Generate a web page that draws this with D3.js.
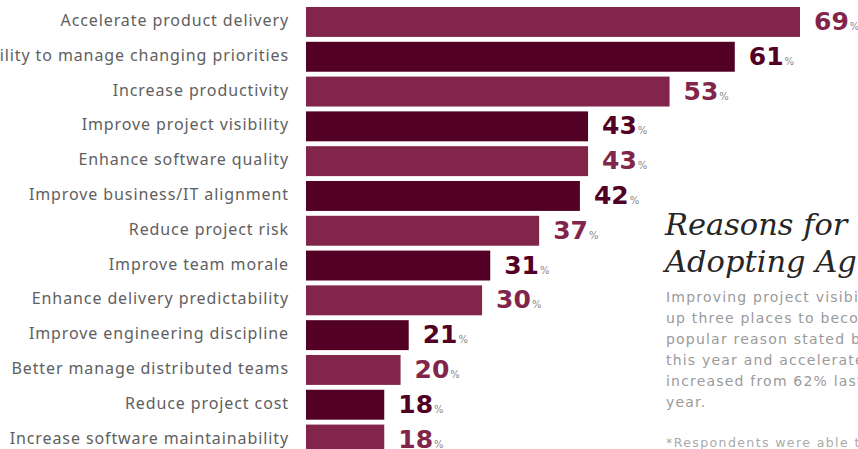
<!DOCTYPE html>
<html>
<head>
<meta charset="utf-8">
<script src="https://cdn.jsdelivr.net/npm/d3@7"></script>
<style>
  html, body { margin: 0; padding: 0; background: #fff; overflow: hidden; }
</style>
</head>
<body>
<script>
// data
const reasons = [
  "Accelerate product delivery",
  "Ability to manage changing priorities",
  "Increase productivity",
  "Improve project visibility",
  "Enhance software quality",
  "Improve business/IT alignment",
  "Reduce project risk",
  "Improve team morale",
  "Enhance delivery predictability",
  "Improve engineering discipline",
  "Better manage distributed teams",
  "Reduce project cost",
  "Increase software maintainability"
];
const percents = [69, 61, 53, 43, 43, 42, 37, 31, 30, 21, 20, 18, 18];
const titleLines = ["Reasons for", "Adopting Agile"];
const noteLines = [
  "Improving project visibility moved",
  "up three places to become the",
  "popular reason stated by respondents",
  "this year and accelerate product delivery",
  "increased from 62% last",
  "year."
];
const footnote = "*Respondents were able to make multiple selections.";

let width = 858, height = 449;
let svg = null;
let x, y = null; // scales
const colors = ["#81264a", "#520023"];

main();

function main() {
  appendSvg("body");
  setupXScale();
  setupYScale();
  addBars();
  addCategoryLabels();
  addValueLabels();
  addTitle();
  addNote();
}

function appendSvg(domElement) {
  svg = d3.select(domElement).append("svg")
    .attr("width", width)
    .attr("height", height);
}

function setupXScale() {
  // the infographic bars are not drawn from zero, domain starts a bit above it
  x = d3.scaleLinear()
    .domain([8.4, 69])
    .range([306, 800]);
}

function setupYScale() {
  y = d3.scaleBand()
    .domain(reasons)
    .range([7, 454.5])
    .paddingInner(0.14)
    .paddingOuter(0);
}

function addBars() {
  svg.selectAll("rect.bar")
    .data(reasons)
    .enter()
    .append("rect")
    .attr("class", "bar")
    .attr("x", x(8.4))
    .attr("y", d => y(d))
    .attr("width", (d, i) => x(percents[i]) - x(8.4))
    .attr("height", y.bandwidth())
    .attr("fill", (d, i) => colors[i % 2]);
}

function addCategoryLabels() {
  svg.selectAll("text.cat")
    .data(reasons)
    .enter()
    .append("text")
    .attr("class", "cat")
    .attr("x", 289)
    .attr("y", d => y(d) + y.bandwidth() / 2 + 4)
    .attr("text-anchor", "end")
    .style("font-family", "'Noto Sans', sans-serif")
    .style("font-size", "16px")
    .style("letter-spacing", "0.9px")
    .style("fill", "#606060")
    .text(d => d);
}

function addValueLabels() {
  const g = svg.selectAll("text.val")
    .data(percents)
    .enter()
    .append("text")
    .attr("class", "val")
    .attr("x", d => x(d) + 14)
    .attr("y", (d, i) => y(reasons[i]) + y.bandwidth() / 2 + 8)
    .style("font-family", "'DejaVu Sans', sans-serif")
    .style("font-weight", "bold")
    .style("font-size", "25px")
    .style("fill", (d, i) => colors[i % 2]);

  g.append("tspan").text(d => d);
  g.append("tspan")
    .attr("dx", 1)
    .style("font-size", "10px")
    .style("font-weight", "normal")
    .style("fill", "#8a8a8a")
    .text("%");
}

function addTitle() {
  svg.selectAll("text.title")
    .data(titleLines)
    .enter()
    .append("text")
    .attr("class", "title")
    .attr("x", 665)
    .attr("y", (d, i) => 235 + i * 37)
    .style("font-family", "'DejaVu Serif', serif")
    .style("font-style", "italic")
    .style("font-size", "30.5px")
    .style("fill", "#262626")
    .text(d => d);
}

function addNote() {
  svg.selectAll("text.note")
    .data(noteLines)
    .enter()
    .append("text")
    .attr("class", "note")
    .attr("x", 666)
    .attr("y", (d, i) => 302 + i * 21)
    .style("font-family", "'DejaVu Sans', sans-serif")
    .style("font-size", "14px")
    .style("letter-spacing", "1.2px")
    .style("fill", "#9a9a9a")
    .text(d => d);

  svg.append("text")
    .attr("x", 666)
    .attr("y", 447)
    .style("font-family", "'DejaVu Sans', sans-serif")
    .style("font-size", "12.5px")
    .style("letter-spacing", "1.4px")
    .style("fill", "#aaaaaa")
    .text(footnote);
}
</script>
</body>
</html>
